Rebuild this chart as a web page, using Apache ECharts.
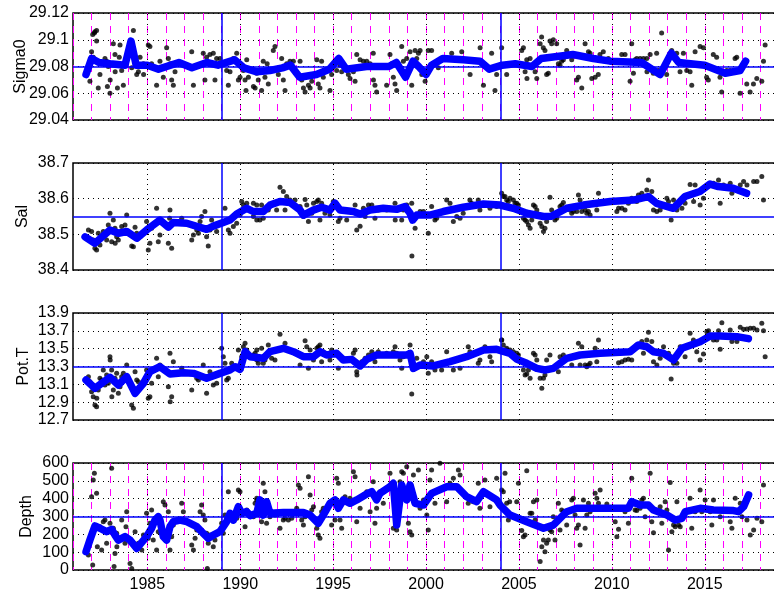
<!DOCTYPE html>
<html>
<head>
<meta charset="utf-8">
<title>Sigma0 / Sal / Pot.T / Depth time series</title>
<script src="https://cdn.jsdelivr.net/npm/echarts@6/dist/echarts.min.js"></script>
<style>
  html, body { margin: 0; padding: 0; background: #fff; }
  #chart { width: 774px; height: 593px; }
</style>
</head>
<body>
<div id="chart"></div>
<script>
// ---- time axis -------------------------------------------------------------
const X_MIN = 1981;
const X_MAX = 2018.78;
const yearTicks = [1985, 1990, 1995, 2000, 2005, 2010, 2015];
const markerYears = [1989, 2004];

// ---- Sigma0 ----------------------------------------------------------------
const sigmaTicks = [29.04, 29.06, 29.08, 29.1, 29.12];
const sigmaRef = 29.08;
const sigmaDots = [
  [1982.06,29.104],[1982.18,29.106],[1982.27,29.107],[1982.15,29.105],[1982.27,29.099],[1982.0,29.091],[1982.09,29.087],[1981.91,29.069],
  [1982.36,29.064],[1982.45,29.074],[1982.54,29.082],[1982.81,29.084],[1982.72,29.086],[1982.9,29.080],[1982.85,29.065],[1982.99,29.060],
  [1983.0,29.070],[1983.17,29.097],[1983.26,29.089],[1983.35,29.082],[1983.27,29.076],[1983.39,29.064],[1983.53,29.096],[1983.49,29.087],
  [1983.62,29.077],[1983.71,29.066],[1984.16,29.079],[1984.25,29.107],[1984.34,29.085],[1984.43,29.074],[1984.52,29.076],[1984.61,29.087],
  [1984.79,29.082],[1984.8,29.074],[1985.05,29.096],[1985.14,29.095],[1985.23,29.082],[1985.32,29.080],[1985.5,29.066],[1985.68,29.084],
  [1985.86,29.072],[1986.04,29.094],[1986.13,29.086],[1986.22,29.082],[1986.31,29.070],[1986.4,29.066],[1986.49,29.076],[1987.39,29.091],
  [1987.48,29.066],[1988.01,29.090],[1988.1,29.070],[1988.19,29.087],[1988.37,29.089],[1988.55,29.090],[1988.64,29.070],[1988.73,29.086],
  [1988.91,29.086],[1989.27,29.077],[1989.36,29.066],[1989.45,29.076],[1989.63,29.086],[1989.81,29.090],[1989.9,29.070],[1989.99,29.072],
  [1990.17,29.077],[1990.26,29.070],[1990.31,29.062],[1990.35,29.085],[1990.44,29.072],[1990.71,29.065],[1990.89,29.075],
  [1990.8,29.064],[1990.97,29.070],[1991.15,29.062],[1991.24,29.084],[1991.33,29.072],[1991.42,29.076],[1991.45,29.082],[1991.51,29.067],
  [1991.78,29.092],[1991.87,29.095],[1992.05,29.074],[1992.23,29.086],[1992.32,29.070],[1992.41,29.062],[1992.5,29.082],[1992.68,29.084],
  [1992.86,29.084],[1993.22,29.084],[1993.31,29.070],[1993.4,29.064],[1993.49,29.061],[1993.67,29.066],[1993.76,29.064],[1993.85,29.069],
  [1994.12,29.085],[1994.2,29.067],[1994.29,29.064],[1994.38,29.084],[1994.47,29.072],[1994.83,29.062],[1994.92,29.074],[1995.01,29.080],
  [1995.19,29.077],[1995.37,29.081],[1995.46,29.076],[1995.82,29.074],[1995.91,29.071],[1996.09,29.076],[1996.18,29.069],[1996.27,29.089],
  [1996.45,29.085],[1996.63,29.084],[1996.81,29.084],[1996.99,29.082],[1997.16,29.090],[1997.17,29.070],[1997.25,29.066],[1997.34,29.061],
  [1997.43,29.080],[1997.88,29.066],[1998.06,29.089],[1998.15,29.082],[1998.24,29.072],[1998.33,29.067],[1998.42,29.062],[1998.51,29.082],
  [1998.69,29.095],[1998.78,29.084],[1998.87,29.074],[1998.96,29.086],[1999.14,29.091],[1999.23,29.066],[1999.32,29.081],[1999.41,29.092],
  [1999.5,29.086],[1999.59,29.090],[1999.68,29.092],[1999.77,29.074],[1999.95,29.069],[2000.12,29.092],[2000.3,29.092],[2000.66,29.079],
  [2001.38,29.090],[2001.92,29.091],[2002.37,29.074],[2002.91,29.094],[2003.09,29.066],[2003.53,29.090],[2003.71,29.062],[2003.8,29.074],
  [2004.07,29.094],[2004.34,29.074],
  [2005.15,29.092],[2005.24,29.094],[2005.42,29.085],[2005.33,29.076],[2005.43,29.071],[2005.6,29.086],[2005.87,29.076],[2005.96,29.071],
  [2006.14,29.097],[2006.22,29.102],[2006.31,29.094],[2006.4,29.092],[2006.49,29.074],[2006.58,29.075],[2006.67,29.099],[2006.76,29.097],
  [2006.85,29.100],[2007.03,29.097],[2007.12,29.082],[2007.21,29.081],[2007.3,29.084],[2007.39,29.085],[2007.57,29.092],[2007.84,29.085],
  [2008.11,29.070],[2008.2,29.072],[2008.38,29.064],[2008.56,29.097],[2008.74,29.091],[2008.83,29.090],[2008.92,29.071],[2009.1,29.072],
  [2009.27,29.074],[2009.36,29.089],[2009.54,29.091],[2009.81,29.086],[2010.53,29.089],[2010.71,29.089],[2010.98,29.069],[2011.07,29.097],
  [2011.16,29.075],[2011.25,29.085],[2011.34,29.086],[2011.52,29.086],[2011.7,29.086],[2011.88,29.086],[2011.89,29.076],[2012.06,29.089],
  [2012.23,29.075],[2012.41,29.090],[2012.5,29.077],[2012.68,29.105],[2012.95,29.074],[2013.22,29.092],[2013.49,29.090],[2013.67,29.076],
  [2013.85,29.090],[2014.03,29.077],[2014.21,29.076],[2014.3,29.066],[2014.48,29.091],[2014.75,29.095],[2014.93,29.094],[2015.1,29.072],
  [2015.19,29.070],[2015.46,29.089],[2015.64,29.087],[2015.82,29.072],[2015.91,29.061],[2016.18,29.077],[2016.36,29.077],[2016.63,29.086],
  [2016.72,29.087],[2016.9,29.060],[2017.26,29.067],[2017.44,29.061],[2017.62,29.067],[2017.8,29.071],[2018.07,29.069],[2018.16,29.084],
  [2018.25,29.096]
];
const sigmaTrend = [
  [1981.7,29.074],[1982.0,29.086],[1982.4,29.083],[1983.0,29.082],[1983.8,29.081],[1984.12,29.099],[1984.4,29.081],[1985.0,29.081],
  [1985.6,29.078],[1986.7,29.083],[1987.4,29.079],[1988.2,29.083],[1988.8,29.081],[1989.7,29.085],[1990.2,29.079],[1990.9,29.076],
  [1991.6,29.077],[1992.27,29.079],[1992.7,29.081],[1993.2,29.072],[1994.1,29.074],[1994.8,29.078],[1995.3,29.086],[1995.7,29.078],
  [1996.8,29.080],[1998.0,29.080],[1998.4,29.083],[1998.9,29.072],[1999.3,29.084],[1999.6,29.080],[2000.0,29.074],[2000.3,29.081],
  [2000.9,29.086],[2002.0,29.085],[2002.9,29.084],[2003.4,29.078],[2004.1,29.081],[2004.8,29.082],[2005.7,29.080],[2006.2,29.086],
  [2007.9,29.089],[2009.0,29.086],[2009.9,29.084],[2011.6,29.083],[2012.6,29.074],[2013.2,29.090],[2013.6,29.083],[2015.0,29.081],
  [2016.1,29.075],[2016.9,29.077],[2017.2,29.084]
];

// ---- Salinity --------------------------------------------------------------
const salTicks = [38.4, 38.5, 38.6, 38.7];
const salRef = 38.55;
const salDots = [
  [1981.83,38.512],[1982.0,38.508],[1982.09,38.484],[1982.18,38.461],[1982.27,38.456],[1982.36,38.503],[1982.45,38.470],[1982.63,38.508],
  [1982.72,38.498],[1982.81,38.484],[1982.9,38.526],[1982.99,38.559],[1983.08,38.479],[1983.17,38.540],[1983.26,38.517],[1983.35,38.493],
  [1983.27,38.475],[1983.44,38.484],[1983.62,38.522],[1983.8,38.526],[1983.89,38.554],[1984.16,38.467],[1984.25,38.465],[1984.34,38.520],
  [1984.43,38.503],[1984.61,38.493],[1984.96,38.536],[1985.05,38.456],[1985.14,38.475],[1985.23,38.517],[1985.5,38.573],[1985.59,38.479],
  [1985.68,38.498],[1986.13,38.475],[1986.22,38.568],[1986.31,38.461],[1986.2,38.545],[1986.4,38.536],[1986.85,38.545],[1987.39,38.484],
  [1987.48,38.498],[1987.66,38.512],[1987.75,38.503],[1987.84,38.536],[1987.92,38.550],[1988.1,38.564],[1988.19,38.493],[1988.28,38.467],
  [1988.37,38.512],[1988.46,38.540],[1988.73,38.508],[1989.18,38.573],[1989.27,38.540],[1989.36,38.512],[1989.45,38.503],[1989.63,38.522],
  [1989.81,38.531],[1989.99,38.554],[1990.08,38.592],[1990.17,38.582],[1990.26,38.568],[1990.35,38.587],[1990.71,38.550],[1990.89,38.582],
  [1990.71,38.587],[1990.8,38.564],[1990.89,38.540],[1991.06,38.540],[1991.15,38.582],[1991.24,38.545],[1991.51,38.568],[1991.96,38.568],
  [1992.14,38.632],[1992.32,38.620],[1992.41,38.568],[1992.5,38.606],[1992.68,38.596],[1992.95,38.596],[1993.22,38.578],[1993.4,38.550],
  [1993.49,38.598],[1993.58,38.582],[1993.67,38.536],[1993.85,38.559],[1993.94,38.587],[1994.12,38.592],[1994.2,38.596],[1994.29,38.540],
  [1994.38,38.587],[1994.56,38.559],[1994.74,38.568],[1994.83,38.554],[1995.01,38.592],[1995.28,38.536],[1995.37,38.545],[1995.73,38.540],
  [1996.09,38.564],[1996.18,38.582],[1996.27,38.512],[1996.45,38.523],[1996.63,38.573],[1996.72,38.550],[1996.9,38.582],[1997.08,38.582],
  [1997.25,38.545],[1997.43,38.568],[1997.88,38.568],[1998.33,38.587],[1998.34,38.540],[1998.69,38.540],[1998.78,38.568],[1998.96,38.582],
  [1999.23,38.587],[1999.41,38.517],[1999.24,38.439],[1999.68,38.564],[1999.86,38.564],[2000.04,38.554],[2000.12,38.503],[2000.3,38.578],
  [2000.48,38.540],[2000.57,38.545],[2001.11,38.596],[2001.29,38.587],[2001.47,38.536],[2001.65,38.550],[2001.83,38.545],[2002.0,38.559],
  [2002.36,38.596],[2002.45,38.587],[2002.81,38.596],[2002.9,38.568],[2003.44,38.573],[2003.8,38.578],[2004.07,38.615],[2004.16,38.606],
  [2004.34,38.596],[2004.43,38.592],
  [2004.25,38.606],[2004.52,38.601],[2004.7,38.596],[2004.79,38.587],[2004.88,38.587],[2004.97,38.582],[2005.24,38.545],[2005.33,38.540],
  [2005.42,38.536],[2005.51,38.526],[2005.6,38.517],[2005.69,38.540],[2005.78,38.582],[2005.87,38.578],[2005.96,38.568],[2006.14,38.531],
  [2006.23,38.522],[2006.32,38.508],[2006.4,38.517],[2006.49,38.536],[2006.67,38.604],[2006.76,38.568],[2006.94,38.540],[2007.03,38.545],
  [2007.21,38.578],[2007.3,38.582],[2007.39,38.589],[2007.57,38.573],[2007.75,38.568],[2007.84,38.559],[2007.93,38.564],[2008.11,38.564],
  [2008.2,38.610],[2008.29,38.596],[2008.38,38.564],[2008.56,38.568],[2008.65,38.559],[2008.74,38.564],[2008.83,38.554],[2009.19,38.568],
  [2009.28,38.615],[2010.09,38.596],[2010.27,38.564],[2010.36,38.573],[2010.54,38.573],[2010.71,38.568],[2010.89,38.587],[2011.07,38.601],
  [2011.34,38.592],[2011.43,38.610],[2011.61,38.615],[2011.88,38.624],[2011.97,38.652],[2012.15,38.620],[2012.24,38.568],[2012.42,38.564],
  [2012.6,38.568],[2012.78,38.578],[2012.96,38.601],[2013.05,38.592],[2013.19,38.540],[2013.32,38.596],[2013.5,38.568],[2013.77,38.573],
  [2013.94,38.587],[2014.21,38.640],[2014.4,38.592],[2014.48,38.638],[2014.75,38.582],[2014.93,38.601],[2015.2,38.638],[2015.47,38.643],
  [2015.74,38.652],[2015.83,38.587],[2016.01,38.638],[2016.37,38.643],[2016.46,38.615],[2016.91,38.638],[2017.09,38.648],[2017.27,38.638],
  [2017.63,38.648],[2017.81,38.648],[2018.07,38.662],[2018.16,38.596]
];
const salTrend = [
  [1981.65,38.493],[1982.18,38.475],[1982.99,38.512],[1983.44,38.503],[1983.89,38.508],[1984.43,38.489],[1984.96,38.512],[1985.68,38.540],
  [1986.13,38.520],[1986.4,38.533],[1987.12,38.531],[1988.19,38.514],[1988.55,38.523],[1989.45,38.540],[1989.81,38.557],[1990.35,38.573],
  [1990.7,38.564],[1991.24,38.564],[1991.6,38.582],[1992.14,38.592],[1992.68,38.589],[1993.22,38.568],[1993.4,38.554],[1993.93,38.568],
  [1994.38,38.576],[1994.83,38.568],[1995.1,38.587],[1995.37,38.568],[1996.09,38.564],[1996.45,38.557],[1996.99,38.568],[1997.7,38.573],
  [1998.42,38.570],[1998.87,38.578],[1999.14,38.559],[1999.28,38.540],[1999.5,38.554],[2000.21,38.554],[2000.93,38.564],[2002.0,38.576],
  [2003.09,38.585],[2003.98,38.582],[2004.7,38.573],[2005.42,38.559],[2006.32,38.550],[2006.76,38.551],[2007.57,38.573],[2008.47,38.582],
  [2009.91,38.592],[2011.16,38.596],[2011.96,38.606],[2012.41,38.587],[2013.31,38.573],[2013.93,38.606],[2014.74,38.620],[2015.28,38.641],
  [2015.73,38.634],[2016.53,38.629],[2017.25,38.615]
];

// ---- Potential temperature -------------------------------------------------
const tempTicks = [12.7, 12.9, 13.1, 13.3, 13.5, 13.7, 13.9];
const tempRef = 13.3;
const tempDots = [
  [1981.83,13.186],[1981.91,13.130],[1982.0,13.018],[1982.09,12.962],[1982.18,12.868],[1982.27,12.850],[1982.28,12.943],[1982.36,13.036],
  [1982.45,13.167],[1982.54,13.149],[1982.63,13.261],[1982.72,13.093],[1982.81,13.205],[1982.9,13.111],[1982.99,13.410],[1983.0,13.373],
  [1983.08,13.261],[1983.09,12.962],[1983.17,13.036],[1983.26,13.167],[1983.35,13.223],[1983.44,12.999],[1983.53,13.074],[1983.62,13.186],
  [1983.71,13.223],[1983.89,13.317],[1983.98,13.167],[1984.16,12.868],[1984.25,12.831],[1984.34,13.242],[1984.43,13.149],[1984.52,13.130],
  [1984.96,13.261],[1985.05,12.943],[1985.14,12.962],[1985.23,13.111],[1985.41,13.279],[1985.5,13.392],[1985.59,13.186],[1985.68,13.317],
  [1986.13,13.074],[1986.22,13.448],[1986.31,12.962],[1986.23,12.906],[1986.4,13.354],[1986.85,13.279],[1987.39,13.036],[1987.66,13.167],
  [1987.75,13.149],[1987.84,13.186],[1988.01,13.317],[1988.19,12.999],[1988.28,13.167],[1988.37,13.242],[1988.55,13.093],[1988.73,13.111],
  [1989.0,13.504],[1989.09,13.410],[1989.18,13.336],[1989.27,13.149],[1989.36,13.167],[1989.54,13.336],[1989.81,13.298],[1989.9,13.485],
  [1989.99,13.317],[1990.08,13.410],[1990.17,13.522],[1990.26,13.560],[1990.35,13.485],[1990.71,13.429],[1990.89,13.485],
  [1990.8,13.448],[1990.89,13.373],[1990.97,13.336],[1991.15,13.504],[1991.24,13.336],[1991.33,13.373],[1991.51,13.541],[1991.69,13.392],
  [1991.87,13.373],[1992.14,13.661],[1992.41,13.560],[1992.95,13.448],[1993.22,13.317],[1993.49,13.590],[1993.58,13.522],[1993.67,13.279],
  [1993.76,13.485],[1993.94,13.373],[1994.12,13.504],[1994.2,13.522],[1994.29,13.541],[1994.38,13.354],[1994.47,13.466],[1994.83,13.373],
  [1994.92,13.485],[1995.1,13.448],[1995.28,13.279],[1995.55,13.392],[1996.09,13.448],[1996.18,13.485],[1996.27,13.242],[1996.28,13.205],
  [1996.54,13.354],[1996.72,13.392],[1996.9,13.429],[1997.08,13.466],[1997.25,13.354],[1997.43,13.466],[1997.88,13.448],[1998.24,13.466],
  [1998.33,13.522],[1998.42,13.448],[1998.6,13.373],[1998.69,13.279],[1998.78,13.410],[1999.14,13.541],[1999.23,12.992],[1999.5,13.392],
  [1999.68,13.317],[1999.86,13.354],[2000.04,13.410],[2000.12,13.223],[2000.3,13.354],[2000.48,13.261],[2000.84,13.261],[2001.11,13.466],
  [2001.47,13.261],[2001.83,13.279],[2002.27,13.522],[2002.36,13.466],[2002.81,13.336],[2002.9,13.373],[2003.17,13.522],[2003.44,13.410],
  [2003.53,13.354],[2004.07,13.597],[2004.16,13.541],[2004.34,13.485],
  [2004.07,13.597],[2004.34,13.504],[2004.52,13.485],[2004.7,13.466],[2004.88,13.448],[2004.97,13.429],[2005.24,13.261],[2005.33,13.205],
  [2005.42,13.216],[2005.6,13.167],[2005.51,13.261],[2005.78,13.448],[2005.87,13.429],[2005.96,13.373],[2006.14,13.167],[2006.23,13.055],
  [2006.32,13.167],[2006.4,13.205],[2006.49,13.373],[2006.67,13.429],[2007.12,13.242],[2007.21,13.410],[2007.39,13.429],[2007.84,13.317],
  [2008.2,13.560],[2008.29,13.317],[2008.38,13.522],[2008.56,13.317],[2008.65,13.298],[2008.74,13.317],[2008.83,13.336],[2009.1,13.504],
  [2009.19,13.354],[2009.28,13.597],[2010.18,13.466],[2010.36,13.343],[2010.54,13.354],[2010.71,13.373],[2010.89,13.380],[2011.07,13.373],
  [2011.16,13.485],[2011.34,13.541],[2011.43,13.522],[2011.61,13.579],[2011.7,13.448],[2011.88,13.597],[2011.97,13.683],[2012.15,13.579],
  [2012.24,13.354],[2012.42,13.317],[2012.6,13.392],[2012.78,13.522],[2013.05,13.448],[2013.19,13.160],[2013.32,13.336],[2013.5,13.336],
  [2013.68,13.522],[2013.94,13.410],[2014.21,13.672],[2014.39,13.597],[2014.57,13.466],[2014.75,13.373],[2014.93,13.440],[2015.11,13.690],
  [2015.2,13.702],[2015.47,13.597],[2015.65,13.597],[2015.74,13.702],[2015.83,13.493],[2015.92,13.792],[2016.37,13.709],[2016.46,13.579],
  [2016.73,13.579],[2016.91,13.739],[2017.09,13.717],[2017.27,13.720],[2017.45,13.728],[2017.63,13.728],[2017.81,13.709],[2018.07,13.784],
  [2018.16,13.702],[2018.25,13.410]
];
const tempTrend = [
  [1981.7,13.149],[1982.18,13.055],[1982.99,13.179],[1983.44,13.093],[1983.89,13.186],[1984.34,12.999],[1984.79,13.111],[1985.14,13.242],
  [1985.68,13.298],[1986.22,13.216],[1986.94,13.231],[1987.48,13.223],[1988.19,13.167],[1988.91,13.223],[1989.45,13.261],[1989.72,13.298],
  [1989.99,13.268],[1990.26,13.466],[1990.53,13.410],[1991.24,13.392],[1991.6,13.466],[1992.32,13.504],[1992.86,13.466],[1993.4,13.410],
  [1993.94,13.410],[1994.29,13.466],[1994.65,13.429],[1995.19,13.448],[1995.55,13.373],[1996.0,13.380],[1996.45,13.306],[1996.81,13.380],
  [1997.34,13.429],[1998.06,13.429],[1998.96,13.429],[1999.14,13.448],[1999.32,13.279],[1999.68,13.317],[2000.39,13.306],[2001.29,13.354],
  [2002.18,13.410],[2003.09,13.485],[2003.8,13.493],[2004.52,13.448],[2004.9,13.380],[2005.42,13.336],[2005.96,13.279],[2006.4,13.261],
  [2006.85,13.279],[2007.57,13.392],[2008.29,13.429],[2009.37,13.448],[2010.98,13.466],[2011.43,13.541],[2011.88,13.522],[2012.24,13.466],
  [2012.78,13.448],[2013.32,13.373],[2013.77,13.504],[2014.75,13.578],[2015.29,13.642],[2015.83,13.642],[2016.73,13.635],[2017.35,13.612]
];

// ---- Depth -----------------------------------------------------------------
const depthTicks = [0, 100, 200, 300, 400, 500, 600];
const depthRef = 300;
const depthDots = [
  [1981.83,84],[1981.91,168],[1982.0,411],[1982.06,28],[1982.09,505],[1982.15,542],[1982.27,430],[1982.31,131],[1982.45,243],[1982.54,112],
  [1982.63,271],[1982.72,280],[1982.81,150],[1982.9,224],[1982.99,262],[1983.08,570],[1983.17,234],[1983.21,19],[1983.26,93],[1983.35,206],
  [1983.36,131],[1983.44,168],[1983.62,280],[1983.8,150],[1983.85,243],[1983.89,327],[1984.07,37],[1984.16,9],[1984.25,150],[1984.34,215],
  [1984.52,150],[1984.7,112],[1984.79,196],[1984.96,318],[1985.05,178],[1985.14,262],[1985.23,336],[1985.32,168],[1985.5,112],[1985.59,215],
  [1985.68,280],[1985.86,383],[1985.95,364],[1986.04,168],[1986.13,327],[1986.22,112],[1986.31,187],[1986.4,252],[1986.85,374],[1986.94,327],
  [1987.39,140],[1987.48,112],[1987.57,178],[1987.66,224],[1987.84,327],[1987.92,364],[1988.01,308],[1988.1,280],[1988.19,206],[1988.23,9],
  [1988.28,150],[1988.37,196],[1988.55,131],[1988.64,168],[1988.91,224],[1989.0,262],[1989.09,206],[1989.18,308],[1989.36,439],[1989.45,290],
  [1989.63,280],[1989.81,290],[1989.9,449],[1989.99,439],[1990.17,327],[1990.26,243],[1990.35,336],[1990.71,299],[1990.89,393],
  [1990.8,374],[1990.89,402],[1991.15,271],[1991.24,486],[1991.33,439],[1991.42,262],[1991.6,299],[1991.87,308],[1992.14,234],[1992.32,280],
  [1992.41,290],[1992.59,280],[1992.77,290],[1993.04,346],[1993.13,477],[1993.22,458],[1993.31,280],[1993.4,252],[1993.49,299],[1993.67,523],
  [1993.76,421],[1993.85,336],[1993.94,355],[1994.12,234],[1994.2,196],[1994.29,178],[1994.38,327],[1994.47,346],[1994.65,336],[1994.83,364],
  [1994.92,252],[1995.1,280],[1995.19,514],[1995.28,486],[1995.37,280],[1995.46,234],[1995.64,411],[1995.91,402],[1996.09,551],[1996.18,523],
  [1996.27,271],[1996.45,346],[1996.63,421],[1996.81,439],[1996.99,327],[1997.16,495],[1997.25,262],[1997.34,346],[1997.52,439],[1997.7,374],
  [1998.06,542],[1998.15,486],[1998.24,234],[1998.42,224],[1998.6,495],[1998.69,551],[1998.78,542],[1998.96,579],[1999.05,262],[1999.14,215],
  [1999.23,196],[1999.32,533],[1999.41,383],[1999.59,561],[1999.68,346],[1999.86,393],[2000.04,308],[2000.12,224],[2000.21,505],[2000.3,561],
  [2000.48,374],[2000.75,598],[2001.11,383],[2001.29,486],[2001.47,514],[2001.74,561],[2001.83,533],[2002.1,421],[2002.27,374],[2002.54,383],
  [2002.81,486],[2002.9,346],[2003.17,505],[2003.44,355],[2003.53,411],[2003.8,514],[2004.07,449],[2004.25,542],[2004.43,280],
  [2004.16,439],[2004.34,374],[2004.5,383],[2004.88,383],[2004.97,486],[2005.15,221],[2005.24,187],[2005.33,196],[2005.42,557],[2005.6,318],
  [2005.69,318],[2005.78,383],[2005.87,280],[2005.96,393],[2006.14,47],[2006.23,131],[2006.32,168],[2006.4,103],[2006.49,150],[2006.58,168],
  [2006.67,224],[2006.76,215],[2006.85,299],[2006.94,168],[2007.12,374],[2007.21,224],[2007.3,336],[2007.39,327],[2007.57,252],[2007.84,393],
  [2007.93,402],[2008.02,308],[2008.11,234],[2008.2,252],[2008.29,140],[2008.47,393],[2008.56,234],[2008.65,308],[2008.74,374],[2008.83,327],
  [2009.1,430],[2009.19,402],[2009.28,374],[2009.37,449],[2009.73,370],[2010.18,271],[2010.27,187],[2010.36,228],[2010.71,327],[2010.89,262],
  [2011.07,514],[2011.16,374],[2011.25,336],[2011.34,333],[2011.52,346],[2011.61,393],[2011.7,402],[2011.79,299],[2012.06,542],[2012.15,271],
  [2012.24,209],[2012.42,327],[2012.6,355],[2012.69,262],[2012.87,383],[2012.96,336],[2013.05,112],[2013.14,490],[2013.23,215],[2013.32,252],
  [2013.41,243],[2013.5,383],[2013.59,252],[2013.68,243],[2013.95,327],[2014.21,402],[2014.3,234],[2014.48,327],[2014.75,449],[2014.84,327],
  [2015.02,393],[2015.29,327],[2015.38,252],[2015.47,393],[2015.83,299],[2016.01,327],[2016.37,271],[2016.46,234],[2016.64,402],[2016.91,374],
  [2017.0,299],[2017.27,280],[2017.45,196],[2017.63,224],[2017.81,290],[2018.07,271],[2018.16,477]
];
const depthTrend = [
  [1981.7,103],[1981.91,168],[1982.18,247],[1982.45,234],[1982.81,215],[1983.08,228],[1983.26,196],[1983.44,168],[1983.8,187],[1984.07,168],
  [1984.43,121],[1984.96,187],[1985.23,234],[1985.41,280],[1985.59,299],[1985.68,280],[1985.86,187],[1986.04,168],[1986.22,243],[1986.4,271],
  [1986.76,280],[1987.12,271],[1987.66,243],[1988.01,206],[1988.28,178],[1988.55,196],[1988.91,215],[1989.27,271],[1989.45,318],[1989.63,280],
  [1989.9,355],[1990.08,318],[1990.35,327],[1990.53,305],[1990.89,318],[1991.06,393],[1991.24,308],[1991.42,383],[1991.6,318],[1992.32,322],
  [1993.4,322],[1993.76,308],[1994.2,262],[1994.47,308],[1994.83,374],[1995.1,393],[1995.28,346],[1995.55,393],[1995.91,374],[1996.27,393],
  [1996.72,421],[1997.08,439],[1997.34,393],[1997.52,430],[1998.06,467],[1998.24,486],[1998.42,252],[1998.69,477],[1998.96,393],[1999.14,477],
  [1999.41,374],[1999.86,364],[2000.3,430],[2001.11,467],[2001.65,467],[2002.18,411],[2002.72,383],[2003.09,439],[2003.8,393],[2003.98,364],
  [2004.52,308],[2005.42,271],[2006.32,234],[2006.85,252],[2007.57,327],[2008.11,346],[2009.37,346],[2010.89,346],[2011.07,383],[2011.52,364],
  [2011.97,364],[2012.24,336],[2012.96,308],[2013.41,280],[2013.77,290],[2013.95,327],[2014.75,346],[2015.47,336],[2016.55,333],[2016.82,327],
  [2017.09,355],[2017.36,421]
];

// ---- panel definitions -----------------------------------------------------
const panels = [
  { name: 'Sigma0', dots: sigmaDots, trend: sigmaTrend, ticks: sigmaTicks, ref: sigmaRef, yearLines: true,  nameGap: 44 },
  { name: 'Sal',    dots: salDots,   trend: salTrend,   ticks: salTicks,   ref: salRef,   yearLines: false, nameGap: 42 },
  { name: 'Pot.T',  dots: tempDots,  trend: tempTrend,  ticks: tempTicks,  ref: tempRef,  yearLines: false, nameGap: 41 },
  { name: 'Depth',  dots: depthDots, trend: depthTrend, ticks: depthTicks, ref: depthRef, yearLines: true,  nameGap: 38 }
];

const FONT = "'Liberation Sans', Arial, Helvetica, sans-serif";
const DOTTED = [1, 4];

// trims floating-point noise from tick values (29.1, 13.7, ...)
const tickText = v => String(parseFloat(Number(v).toFixed(4)));

const grid = [], xAxis = [], yAxis = [], series = [];

panels.forEach((p, i) => {
  const last = i === panels.length - 1;
  grid.push({
    left: 73, top: 13 + 150 * i, width: 702, height: 107,
    containLabel: false, outerBoundsMode: 'none',
    show: true, borderColor: '#000', borderWidth: 1.5, backgroundColor: '#fff'
  });
  xAxis.push({
    type: 'value', gridIndex: i, min: X_MIN, max: X_MAX, interval: 1,
    axisLine: { show: false }, axisTick: { show: false },
    axisLabel: {
      show: last, margin: 7, fontSize: 16, color: '#000', fontFamily: FONT,
      formatter: v => (Math.abs(v - Math.round(v)) < 1e-6 && Math.round(v) % 5 === 0) ? String(Math.round(v)) : ''
    },
    splitLine: { show: p.yearLines, lineStyle: { color: '#ff00ff', type: [7, 6], width: 1 } }
  });
  const step = p.ticks[1] - p.ticks[0];
  yAxis.push({
    type: 'value', gridIndex: i,
    min: p.ticks[0], max: p.ticks[p.ticks.length - 1], interval: step,
    name: p.name, nameLocation: 'middle', nameGap: p.nameGap, nameRotate: 90, nameMoveOverlap: false,
    nameTextStyle: { fontSize: 16, color: '#000', fontFamily: FONT },
    axisLine: { show: false }, axisTick: { show: false },
    axisLabel: { margin: 4, fontSize: 16, color: '#000', fontFamily: FONT, formatter: tickText },
    splitLine: { show: true, lineStyle: { color: '#000', type: DOTTED, width: 1 } }
  });

  // five-year dotted grid, reference level and the two marker years
  const guide = yearTicks.map(y => ({ xAxis: y, lineStyle: { color: '#000', type: DOTTED, width: 1 } }))
    .concat(markerYears.map(y => ({ xAxis: y, lineStyle: { color: '#0000ff', type: 'solid', width: 1.5 } })))
    .concat([{ yAxis: p.ref, lineStyle: { color: '#0000ff', type: 'solid', width: 1.5 } }]);

  series.push({
    type: 'line', xAxisIndex: i, yAxisIndex: i, data: [], z: 1, silent: true,
    markLine: { silent: true, symbol: ['none', 'none'], label: { show: false }, animation: false, data: guide }
  });
  series.push({
    type: 'scatter', xAxisIndex: i, yAxisIndex: i, data: p.dots, z: 3,
    symbol: 'circle', symbolSize: 5, itemStyle: { color: '#000' }, silent: true
  });
  series.push({
    type: 'line', xAxisIndex: i, yAxisIndex: i, data: p.trend, z: 4,
    showSymbol: false, symbol: 'none', smooth: false, clip: true,
    lineStyle: { color: '#0000ff', width: 7.5, join: 'round', cap: 'round' }, silent: true
  });
});

const chart = echarts.init(document.getElementById('chart'), null, { renderer: 'canvas' });
chart.setOption({
  animation: false,
  backgroundColor: '#fff',
  grid, xAxis, yAxis, series
});
</script>
</body>
</html>
